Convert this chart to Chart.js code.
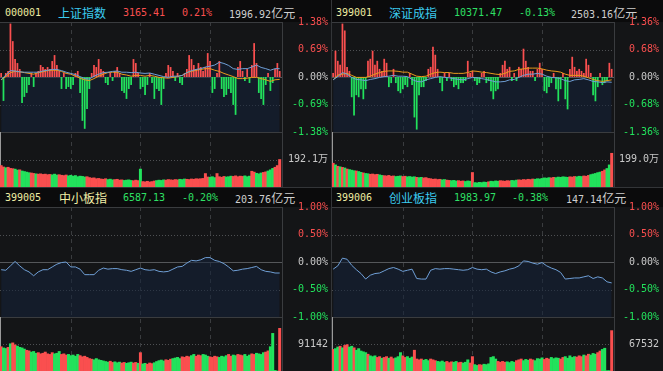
<!DOCTYPE html>
<html>
<head>
<meta charset="utf-8">
<script src="https://cdn.jsdelivr.net/npm/chart.js@4.4.0/dist/chart.umd.min.js"></script>
<style>
  body { margin: 0; width: 663px; height: 371px; overflow: hidden; position: relative; background: #0b0b0c; }
  .panel { position: absolute; width: 331px; }
  .panel canvas { position: absolute; left: 0; top: 0; }
  .hdr { position: absolute; height: 17px; line-height: 17px; font-family: 'DejaVu Sans Mono', monospace; font-size: 10px; white-space: nowrap; }
  .cn { font-family: 'Noto Sans CJK SC', sans-serif; font-size: 12px; }
  .code { color: #efeda2; }
  .cyan { color: #3ccbf0; }
  .pale { color: #f2efa8; }
  .up { color: #fa4f4f; }
  .down { color: #2ee065; }
  .amt { color: #cfcfcf; }
  .sep { position: absolute; background: #333538; }
</style>
</head>
<body>

<!-- headers -->
<div class="hdr code" style="left:5px;top:4px">000001</div>
<div class="hdr cn cyan" style="left:58px;top:4px">上证指数</div>
<div class="hdr up" style="left:123px;top:4px">3165.41</div>
<div class="hdr up" style="left:182px;top:4px">0.21%</div>
<div class="hdr amt" style="left:229px;top:4px">1996.92<span class="cn">亿元</span></div>

<div class="hdr code" style="left:336px;top:4px">399001</div>
<div class="hdr cn cyan" style="left:389px;top:4px">深证成指</div>
<div class="hdr down" style="left:454px;top:4px">10371.47</div>
<div class="hdr down" style="left:519px;top:4px">-0.13%</div>
<div class="hdr amt" style="left:571px;top:4px">2503.16<span class="cn">亿元</span></div>

<div class="hdr code" style="left:5px;top:189px">399005</div>
<div class="hdr cn pale" style="left:59px;top:189px">中小板指</div>
<div class="hdr down" style="left:123px;top:189px">6587.13</div>
<div class="hdr down" style="left:182px;top:189px">-0.20%</div>
<div class="hdr amt" style="left:235px;top:189px">203.76<span class="cn">亿元</span></div>

<div class="hdr code" style="left:336px;top:189px">399006</div>
<div class="hdr cn cyan" style="left:389px;top:189px">创业板指</div>
<div class="hdr down" style="left:454px;top:189px">1983.97</div>
<div class="hdr down" style="left:512px;top:189px">-0.38%</div>
<div class="hdr amt" style="left:566px;top:189px">147.14<span class="cn">亿元</span></div>

<div class="panel" style="left:0;top:0;height:188px"><canvas id="sh" width="331" height="188"></canvas></div>
<div class="panel" style="left:332px;top:0;height:188px"><canvas id="sz" width="331" height="188"></canvas></div>
<div class="panel" style="left:0;top:188px;height:183px"><canvas id="zx" width="331" height="183"></canvas></div>
<div class="panel" style="left:332px;top:188px;height:183px"><canvas id="cy" width="331" height="183"></canvas></div>

<div class="sep" style="left:331px;top:0;width:1px;height:371px"></div>
<div class="sep" style="left:0;top:187px;width:663px;height:1px"></div>

<script>
// ---- data (percent change vs. previous close, 2-minute bars / 4-minute line points) ----
// 上证指数
const shBars = [
  0.1, -0.6, 0.1, 0.15, 1.34, 0.9, 0.45, 0.35, 0.2, -0.65,
  -0.5, -0.4, -0.2, 0.1, -0.25, 0.1, 0.15, 0.3, 0.25, 0.2,
  0.25, 0.2, 0.4, 0.55, 0.3, 0.15, -0.3, 0.1, -0.3, -0.25,
  -0.3, -0.2, 0.1, 0.15, -0.4, -1.1, -1.3, -0.8, -0.3, 0.1,
  0.3, 0.25, 0.45, 0.2, 0.15, -0.15, -0.2, 0.1, -0.1, 0.15,
  0.25, 0.1, -0.35, -0.4, -0.55, -0.3, -0.2, 0.45, 0.35, 0.1,
  -0.3, -0.25, -0.45, -0.2, 0.1, -0.15, -0.55, -0.3, -0.35, -0.7,
  -0.3, 0.1, 0.3, 0.25, 0.15, -0.1, 0.1, -0.15, -0.2, 0.1,
  0.2, 0.55, 0.45, 0.3, 0.2, 0.35, 0.25, 0.15, 0.25, 0.6,
  0.4, -0.4, -0.3, 0.1, 0.4, -0.3, -0.5, -0.45, -0.3, -0.4,
  -0.7, -0.95, 0.25, 0.4, 0.15, -0.1, 0.2, -0.15, 0.3, 0.85,
  0.35, -0.4, -0.55, -0.7, -0.2, 0.1, -0.35, -0.15, 0.2, 0.35,
  0.15
];
const shLine = [
  -0.07, 0.05, 0.16, 0.15, 0.13, 0.12, 0.12, 0.12, 0.12, 0.15,
  0.17, 0.19, 0.19, 0.16, 0.12, 0.09, 0.06, 0.01, -0.04, -0.05,
  0.02, 0.07, 0.11, 0.12, 0.14, 0.15, 0.12, 0.12, 0.11, 0.12,
  0.10, 0.09, 0.10, 0.07, 0.04, 0.01, -0.01, 0.02, 0.02, 0.04,
  0.11, 0.16, 0.19, 0.21, 0.25, 0.27, 0.30, 0.37, 0.34, 0.29,
  0.21, 0.19, 0.21, 0.21, 0.25, 0.30, 0.24, 0.21, 0.17, 0.21,
  0.21
];
const shAvg = [
  -0.07, 0.01, 0.11, 0.14, 0.13, 0.11, 0.09, 0.07, 0.11, 0.13,
  0.16, 0.17, 0.17, 0.14, 0.09, 0.07, 0.02, -0.03, -0.07, -0.09,
  -0.04, 0.02, 0.07, 0.11, 0.12, 0.12, 0.07, 0.05, 0.02, 0.04,
  0.04, 0.02, 0.04, 0.02, -0.01, -0.02, -0.03, -0.01, 0.01, 0.04,
  0.11, 0.14, 0.17, 0.19, 0.21, 0.21, 0.17, 0.14, 0.09, 0.05,
  0.01, -0.04, -0.04, -0.03, -0.01, -0.01, -0.04, -0.07, -0.11, -0.07,
  -0.06
];
const shVol = [ // 万
  150, 140, 135, 138, 130, 128, 125, 118, 120, 112,
  108, 104, 100, 98, 95, 92, 90, 92, 88, 90,
  86, 88, 85, 90, 84, 86, 82, 80, 84, 78,
  82, 76, 80, 72, 76, 74, 70, 72, 66, 62,
  64, 58, 60, 56, 54, 58, 52, 55, 50, 52,
  54, 48, 50, 46, 48, 50, 46, 44, 48, 45,
  125, 38, 36, 40, 35, 38, 42, 45, 48, 46,
  50, 48, 52, 50, 48, 52, 50, 54, 52, 56,
  54, 52, 56, 54, 58, 56, 58, 60, 94, 70,
  68, 72, 66, 94, 72, 68, 74, 70, 72, 76,
  74, 78, 72, 76, 74, 78, 72, 76, 110, 104,
  96, 92, 98, 102, 106, 112, 120, 130, 138, 150,
  192
];
const shVolDir = 'R2 G1 R3 G2 R1 G4 R2 G1 R6 G3 R4 G8 R9 G3 R4 G4 R3 G1 R6 G4 R6 G3 R10 G3 R4 G3 R5 G3 R2 G3 R2 G3 R3';

// 深证成指
const szBars = [
  0.1, 0.65, 0.4, 0.3, 1.32, 1.15, 0.25, 0.15, -0.5, -0.95,
  -0.45, -0.5, -0.3, -0.55, -0.3, 0.4, 0.45, 0.65, 0.3, 0.4,
  0.2, 0.15, 0.45, 0.35, -0.25, -0.15, 0.2, -0.15, -0.35, -0.4,
  -0.3, -0.2, -0.25, 0.1, -0.2, -1.0, -1.3, -0.45, -0.25, -0.25,
  -0.1, 0.2, 0.25, 0.75, 0.55, 0.2, -0.15, -0.35, 0.1, -0.1,
  0.1, -0.1, -0.25, -0.2, -0.3, -0.15, -0.15, -0.1, 0.4, 0.1,
  0.15, -0.1, -0.2, -0.15, 0.1, 0.15, -0.15, -0.1, -0.35, -0.55,
  -0.35, -0.3, 0.1, 0.3, 0.4, 0.2, 0.25, -0.1, 0.1, -0.1,
  0.25, 0.2, 0.7, 0.4, 0.25, 0.15, 0.15, -0.1, 0.2, 0.35,
  0.2, -0.35, -0.4, -0.25, -0.15, 0.1, -0.3, -0.6, -0.3, 0.1,
  -0.55, -0.8, 0.2, 0.5, 0.25, 0.15, 0.2, 0.15, 0.1, 0.45,
  0.3, 0.1, -0.45, -0.6, -0.25, 0.1, -0.2, -0.15, -0.1, 0.35,
  0.2
];
const szLine = [
  -0.07, 0.01, 0.11, 0.07, -0.01, -0.06, -0.07, -0.09, -0.06, -0.04,
  -0.01, 0.01, 0.02, 0.04, 0.02, 0.02, 0.01, -0.06, -0.11, -0.12,
  -0.07, -0.04, -0.01, 0.01, -0.01, -0.02, -0.04, -0.06, -0.07, -0.04,
  -0.01, -0.02, -0.04, -0.06, -0.09, -0.12, -0.12, -0.11, -0.07, -0.06,
  -0.01, 0.04, 0.07, 0.07, 0.09, 0.07, 0.02, -0.01, -0.02, -0.04,
  -0.09, -0.11, -0.07, -0.06, -0.04, -0.07, -0.11, -0.12, -0.14, -0.12,
  -0.13
];
const szAvg = [
  -0.07, 0.05, 0.07, 0.09, 0.04, -0.01, -0.01, -0.01, 0.02, 0.07,
  0.11, 0.14, 0.15, 0.15, 0.14, 0.12, 0.12, 0.07, 0.02, 0.01,
  0.02, 0.07, 0.11, 0.12, 0.11, 0.11, 0.09, 0.09, 0.09, 0.11,
  0.15, 0.14, 0.12, 0.11, 0.09, 0.07, 0.06, 0.09, 0.14, 0.15,
  0.19, 0.20, 0.22, 0.22, 0.22, 0.20, 0.17, 0.15, 0.14, 0.12,
  0.07, 0.04, 0.04, 0.04, 0.02, -0.02, -0.06, -0.09, -0.11, -0.09,
  -0.07
];
const szVol = [ // 万
  172, 160, 150, 146, 142, 138, 130, 126, 122, 118,
  116, 112, 106, 102, 98, 96, 92, 94, 90, 92,
  88, 84, 82, 80, 84, 78, 80, 76, 78, 80,
  76, 78, 74, 76, 72, 74, 70, 68, 70, 66,
  68, 62, 60, 56, 58, 54, 56, 52, 54, 50,
  48, 46, 48, 44, 46, 42, 44, 40, 44, 42,
  105, 32, 30, 34, 32, 36, 34, 38, 42, 40,
  44, 42, 46, 44, 42, 46, 44, 48, 46, 50,
  52, 50, 54, 52, 56, 54, 58, 56, 60, 58,
  62, 66, 64, 68, 66, 70, 68, 72, 70, 74,
  72, 70, 74, 72, 76, 74, 78, 76, 80, 78,
  84, 90, 94, 98, 104, 108, 114, 124, 134, 160,
  244
];
const szVolDir = 'R1 G1 R1 G1 R1 G1 R1 G3 R1 G2 R1 G2 R4 G2 R5 G3 R2 G4 R1 G2 R8 G2 R2 G3 R3 G3 R1 G6 R1 G4 R5 G3 R7 G7 R2 G6 R3 G3 R3 G5 R2 G2 R1';

// 中小板指
const zxLine = [
  -0.14, -0.15, -0.07, 0.01, -0.07, -0.14, -0.18, -0.25, -0.18, -0.14,
  -0.14, -0.09, -0.04, -0.01, 0.00, -0.09, -0.09, -0.13, -0.23, -0.23,
  -0.23, -0.15, -0.11, -0.13, -0.12, -0.12, -0.14, -0.15, -0.17, -0.14,
  -0.11, -0.14, -0.15, -0.14, -0.17, -0.18, -0.17, -0.13, -0.09, -0.08,
  -0.02, 0.03, 0.02, 0.04, 0.08, 0.08, 0.03, 0.01, -0.03, -0.09,
  -0.16, -0.15, -0.13, -0.12, -0.10, -0.08, -0.14, -0.17, -0.18, -0.20,
  -0.20
];
const zxVol = [
  82000, 78000, 76000, 80000, 92000, 95000, 88000, 84000, 80000, 78000,
  74000, 70000, 68000, 64000, 66000, 60000, 62000, 58000, 60000, 64000,
  58000, 56000, 62000, 58000, 60000, 66000, 56000, 58000, 54000, 56000,
  52000, 54000, 50000, 56000, 52000, 48000, 50000, 46000, 42000, 40000,
  38000, 42000, 38000, 36000, 34000, 32000, 30000, 33000, 29000, 31000,
  28000, 30000, 27000, 29000, 26000, 28000, 30000, 27000, 29000, 26000,
  62000, 24000, 26000, 23000, 27000, 25000, 28000, 32000, 35000, 37000,
  34000, 38000, 36000, 40000, 42000, 44000, 46000, 42000, 48000, 46000,
  50000, 48000, 52000, 56000, 50000, 54000, 52000, 56000, 54000, 50000,
  48000, 46000, 50000, 48000, 46000, 50000, 48000, 52000, 56000, 50000,
  54000, 52000, 56000, 54000, 52000, 56000, 50000, 54000, 58000, 56000,
  60000, 58000, 56000, 62000, 64000, 68000, 82000, 127000, 2000, 0,
  144000
];
const zxVolDir = 'R1 G2 R1 G1 R2 G4 R2 G3 R7 G3 R3 G5 R6 G7 R2 G3 R2 G3 R2 G1 R1 G2 R3 G5 R3 G4 R4 G2 R3 G3 R4 G4 R2 G2 R3 G3 R2 G4 R2 G4 R1';

// 创业板指
const cyLine = [
  -0.13, -0.07, 0.07, 0.05, -0.06, -0.14, -0.21, -0.31, -0.24, -0.21,
  -0.20, -0.16, -0.12, -0.10, -0.13, -0.17, -0.15, -0.13, -0.30, -0.31,
  -0.31, -0.15, -0.12, -0.13, -0.12, -0.12, -0.13, -0.14, -0.15, -0.14,
  -0.10, -0.13, -0.14, -0.13, -0.18, -0.21, -0.18, -0.16, -0.13, -0.11,
  -0.07, 0.02, 0.01, -0.02, -0.04, -0.01, -0.07, -0.11, -0.14, -0.19,
  -0.31, -0.30, -0.29, -0.29, -0.27, -0.25, -0.30, -0.27, -0.29, -0.36,
  -0.38
];
const cyVol = [
  54000, 56000, 60000, 62000, 58000, 64000, 66000, 60000, 62000, 58000,
  52000, 56000, 50000, 48000, 46000, 42000, 38000, 36000, 38000, 34000,
  36000, 32000, 34000, 36000, 32000, 35000, 31000, 33000, 36000, 46000,
  38000, 34000, 36000, 32000, 35000, 52000, 30000, 28000, 30000, 27000,
  29000, 26000, 30000, 28000, 26000, 24000, 23000, 25000, 22000, 24000,
  21000, 23000, 22000, 24000, 21000, 22000, 20000, 22000, 28000, 20000,
  36000, 16000, 14000, 16000, 15000, 17000, 16000, 18000, 34000, 36000,
  30000, 24000, 22000, 24000, 22000, 23000, 21000, 24000, 22000, 26000,
  28000, 30000, 26000, 29000, 27000, 30000, 28000, 26000, 31000, 30000,
  33000, 29000, 32000, 30000, 34000, 31000, 33000, 32000, 30000, 34000,
  36000, 32000, 38000, 34000, 36000, 35000, 38000, 36000, 40000, 38000,
  42000, 40000, 44000, 42000, 46000, 50000, 54000, 57000, 1000, 1000,
  101000
];
const cyVolDir = 'R1 G2 R1 G1 R2 G2 R1 G5 R1 G3 R2 G1 R2 G1 R2 G3 R2 G3 R4 G3 R3 G4 R3 G2 R2 G3 R2 G2 R2 G6 R4 G4 R3 G3 R2 G4 R3 G4 R2 G5 R3 G1 R2 G3 R2 G4 R1';

// axis labels
const shTicks = [1.38, 0.69, 0, -0.69, -1.38];
const szTicks = [1.36, 0.68, 0, -0.68, -1.36];
const boardTicks = [1.00, 0.50, 0, -0.50, -1.00];
const shVolMark = 192.1, szVolMark = 199.0, zxVolMark = 91142, cyVolMark = 67532;

// ---- drawing ----
const RED = '#fa4f4f';
const GREEN = '#22e25c';
const BLUE = '#6f9fd6';
const ORANGE = '#e99b1c';
const GRID = '#3a3c3f';
const FILL = 'rgba(20, 35, 58, 0.55)';
const LABEL_FONT = { family: "'DejaVu Sans Mono', 'Noto Sans CJK SC', monospace", size: 10 };

function expandRuns(s) {
  return s.trim().split(/\s+/).flatMap(r => Array(Number(r.slice(1))).fill(r[0]));
}

const decor = {
  id: 'decor',
  beforeDraw(chart) {
    const { ctx, chartArea: a } = chart;
    ctx.save();
    ctx.fillStyle = '#141517';
    ctx.fillRect(0, a.top, chart.width, chart.height - a.top);
    ctx.restore();
  },
  beforeDatasetsDraw(chart) {
    const { ctx, chartArea: a, scales } = chart;
    const { x, yP, yV } = scales;
    const snap = v => Math.round(v) + 0.5;
    const seg = (x0, y0, x1, y1, color, dash) => {
      ctx.save();
      ctx.strokeStyle = color;
      ctx.lineWidth = 1;
      ctx.setLineDash(dash || []);
      ctx.beginPath();
      ctx.moveTo(x0, y0);
      ctx.lineTo(x1, y1);
      ctx.stroke();
      ctx.restore();
    };
    const hline = (v, scale, color, dash) => {
      const y = snap(scale.getPixelForValue(v));
      seg(a.left, y, a.right, y, color, dash);
    };
    [60, 120, 180].forEach(m => {
      const px = snap(x.getPixelForValue(m));
      seg(px, a.top, px, a.bottom, GRID, [4, 4]);
    });
    const top = yP.max;
    hline(top / 2, yP, '#4e5053', [1, 2]);
    hline(-top / 2, yP, '#4e5053', [1, 2]);
    hline(0, yP, '#55575a');
    seg(a.left, a.top + 0.5, a.right, a.top + 0.5, GRID);
    hline(yP.min, yP, GRID);
    yV.ticks.forEach(t => hline(t.value, yV, '#4e5053', [1, 2]));
    const rx = snap(a.right);
    seg(rx, a.top, rx, a.bottom, GRID);
    const vTop = yV.getPixelForValue(yV.max);
    seg(a.left + 0.5, vTop, a.left + 0.5, a.bottom, '#9a9a9a');
  }
};

// keep tick labels from shrinking the plot area
const noLabelPadding = s => {
  s.width = s.options.axisWidth;
  s.paddingTop = 0;
  s.paddingBottom = 0;
};

function buildPanel(id, o) {
  const barMinutes = o.vol.map((_, i) => i * 2);
  const lineMinutes = o.line.map((_, j) => j * 4);
  const asLine = arr => arr.map((v, j) => ({ x: lineMinutes[j], y: v }));
  const dirs = expandRuns(o.volDir);

  const datasets = [
    { type: 'line', data: asLine(o.line), yAxisID: 'yP', borderWidth: 0, pointRadius: 0,
      fill: 'start', backgroundColor: FILL, order: 6 },
    { type: 'bar', data: o.vol.map((v, i) => ({ x: barMinutes[i], y: v })), yAxisID: 'yV',
      backgroundColor: c => dirs[c.dataIndex] === 'G' ? GREEN : RED,
      grouped: false, barPercentage: 1, categoryPercentage: 1, order: 5 }
  ];
  if (o.bars) {
    datasets.push({ type: 'bar', data: o.bars.map((v, i) => ({ x: barMinutes[i], y: v })), yAxisID: 'yP',
      backgroundColor: c => (c.raw && c.raw.y < 0) ? GREEN : RED,
      grouped: false, barPercentage: 0.75, categoryPercentage: 1, order: 4 });
  }
  if (o.avg) {
    datasets.push({ type: 'line', data: asLine(o.avg), yAxisID: 'yP', borderColor: ORANGE,
      borderWidth: 1, pointRadius: 0, tension: 0, order: 2 });
  }
  datasets.push({ type: 'line', data: asLine(o.line), yAxisID: 'yP', borderColor: BLUE,
    borderWidth: 1, pointRadius: 0, tension: 0, order: 1 });

  const range = o.ticks[0];
  new Chart(document.getElementById(id), {
    type: 'bar',
    data: { datasets },
    options: {
      responsive: false,
      animation: false,
      devicePixelRatio: 1,
      layout: { padding: { top: o.padTop, right: o.padRight, bottom: o.padBottom, left: 0 } },
      plugins: { legend: { display: false }, tooltip: { enabled: false } },
      scales: {
        x: { type: 'linear', min: -1, max: 242, display: false, offset: false, grid: { offset: false } },
        yP: {
          type: 'linear', position: 'right', stack: 'panel', stackWeight: 110,
          min: -range, max: range, axisWidth: o.axisWidth,
          grid: { display: false }, border: { display: false },
          afterBuildTicks: s => { s.ticks = o.ticks.map(v => ({ value: v })); },
          afterFit: noLabelPadding,
          ticks: {
            crossAlign: 'far', padding: 0, autoSkip: false, font: LABEL_FONT,
            color: c => c.tick.value > 0 ? RED : (c.tick.value < 0 ? GREEN : '#c9c9c9'),
            callback: v => v.toFixed(2) + '%'
          }
        },
        yV: {
          type: 'linear', position: 'right', stack: 'panel', stackWeight: o.volHeight,
          min: 0, max: o.volMark * 2, axisWidth: o.axisWidth,
          grid: { display: false }, border: { display: false },
          afterBuildTicks: s => { s.ticks = [{ value: o.volMark }]; },
          afterFit: noLabelPadding,
          ticks: { crossAlign: 'far', padding: 0, autoSkip: false, font: LABEL_FONT, color: '#c9c9c9',
            callback: () => o.volLabel }
        }
      }
    },
    plugins: [decor]
  });
}

buildPanel('sh', { bars: shBars, line: shLine, avg: shAvg, vol: shVol, volDir: shVolDir,
  ticks: shTicks, volMark: shVolMark, volLabel: shVolMark.toFixed(1) + '万',
  padTop: 22, padBottom: 1, padRight: 3, axisWidth: 46, volHeight: 55 });
buildPanel('sz', { bars: szBars, line: szLine, avg: szAvg, vol: szVol, volDir: szVolDir,
  ticks: szTicks, volMark: szVolMark, volLabel: szVolMark.toFixed(1) + '万',
  padTop: 22, padBottom: 1, padRight: 4, axisWidth: 45, volHeight: 55 });
buildPanel('zx', { line: zxLine, vol: zxVol, volDir: zxVolDir,
  ticks: boardTicks, volMark: zxVolMark, volLabel: String(zxVolMark),
  padTop: 19, padBottom: 0, padRight: 3, axisWidth: 46, volHeight: 54 });
buildPanel('cy', { line: cyLine, vol: cyVol, volDir: cyVolDir,
  ticks: boardTicks, volMark: cyVolMark, volLabel: String(cyVolMark),
  padTop: 19, padBottom: 0, padRight: 4, axisWidth: 45, volHeight: 54 });
</script>
</body>
</html>
